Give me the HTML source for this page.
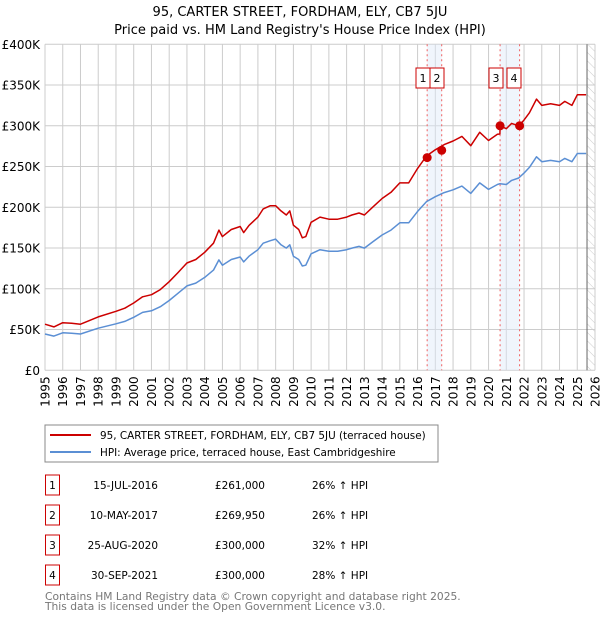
<!DOCTYPE html>
<html><head><meta charset="utf-8"><style>
body{margin:0;background:#fff;font-family:"Liberation Sans","DejaVu Sans",sans-serif}
svg text{font-family:"DejaVu Sans","Liberation Sans",sans-serif}
</style></head><body>
<svg id="c" width="600" height="620" xmlns="http://www.w3.org/2000/svg">
<defs><pattern id="hatch" width="6" height="6" patternUnits="userSpaceOnUse" patternTransform="rotate(-45)"><line x1="0" y1="0" x2="0" y2="6" stroke="#ccc" stroke-width="1"/></pattern></defs>
<text x="300" y="16" text-anchor="middle" font-size="13">95, CARTER STREET, FORDHAM, ELY, CB7 5JU</text>
<text x="300" y="34" text-anchor="middle" font-size="13">Price paid vs. HM Land Registry's House Price Index (HPI)</text>
<g id="grid"></g><g id="marks"></g><g id="series"></g><g id="axes"></g>
<rect x="45" y="425" width="393" height="37" fill="#fff" stroke="#888"/>
<line x1="50" y1="435" x2="91" y2="435" stroke="#cc0000" stroke-width="2"/>
<text x="100" y="439" font-size="10.4">95, CARTER STREET, FORDHAM, ELY, CB7 5JU (terraced house)</text>
<line x1="50" y1="452" x2="91" y2="452" stroke="#5b8fd4" stroke-width="2"/>
<text x="100" y="456" font-size="10.4">HPI: Average price, terraced house, East Cambridgeshire</text>
<g id="table"></g>
<text x="45" y="600" font-size="10.7" fill="#777">Contains HM Land Registry data © Crown copyright and database right 2025.</text>
<text x="45" y="610" font-size="10.7" fill="#777">This data is licensed under the Open Government Licence v3.0.</text>
</svg>
<script>
const years=[1995,1995.5,1996,1996.5,1997,1998,1999,1999.5,2000,2000.5,2001,2001.5,2002,2002.5,2003,2003.5,2004,2004.5,2004.8,2005,2005.5,2006,2006.2,2006.5,2007,2007.3,2007.7,2008,2008.3,2008.6,2008.8,2009,2009.3,2009.5,2009.7,2010,2010.5,2011,2011.5,2012,2012.3,2012.7,2013,2013.5,2014,2014.5,2015,2015.5,2016,2016.5,2017,2017.5,2018,2018.5,2019,2019.5,2020,2020.5,2020.64,2020.65,2021,2021.3,2021.7,2022,2022.3,2022.7,2023,2023.5,2024,2024.3,2024.7,2025,2025.5];
const hpiValues=[44.6,42,46,45.5,44.6,51.6,57,60,65,71,73,78,85.6,94.6,103.6,107,114,123,135.5,129,136,139,133,140,148,156,159,161,154,150,154,140,136,128,129,143,148,146,146,148,150,152,150,158,166,172,181,181,195,207,213,218,221.5,226,217,230,222,228,229,229,228,233,236,242,249,262,256,257.5,256,260,256,266,266];
const priceValues=[56.6,53.3,58.4,57.8,56.6,65.5,72.4,76.2,82.6,90.2,92.7,99,108.7,120,131.6,135.9,144.8,156,172,164,172.7,176.5,169,177.8,188,198,202,202,195.6,190.5,195.6,178,172.7,162.6,164,181.6,188,185.4,185.4,188,190.5,193,190.5,200.7,210.8,218.4,230,230,247.7,263,270.5,276.9,281.3,287,275.6,292,282,289.6,290,300,296.4,303,300,307,316,332.7,325,327,325,330,325,338,338];
const saleLabels=["1","2","3","4"];
const saleDates=[2016.54,2017.36,2020.65,2021.75];
const salePrices=[261,269.95,300,300];
const saleDateText=["15-JUL-2016","10-MAY-2017","25-AUG-2020","30-SEP-2021"];
const salePriceText=["£261,000","£269,950","£300,000","£300,000"];
const saleHpiText=["26% ↑ HPI","26% ↑ HPI","32% ↑ HPI","28% ↑ HPI"];
const yTicks=[0,50,100,150,200,250,300,350,400];
const yTickLabels=["£0","£50K","£100K","£150K","£200K","£250K","£300K","£350K","£400K"];
const xTicks=[1995,1996,1997,1998,1999,2000,2001,2002,2003,2004,2005,2006,2007,2008,2009,2010,2011,2012,2013,2014,2015,2016,2017,2018,2019,2020,2021,2022,2023,2024,2025,2026];

const NS="http://www.w3.org/2000/svg";
const X0=45,X1=595,Y0=370.3,Y1=44.3;
const xs=v=>X0+(v-1995)*(X1-X0)/31;
const ys=v=>Y0-(v)*(Y0-Y1)/400;
function mk(tag,attrs,parent,txt){const e=document.createElementNS(NS,tag);for(const k in attrs)e.setAttribute(k,attrs[k]);if(txt!==undefined)e.textContent=txt;parent.appendChild(e);return e;}
const grid=document.getElementById('grid'),marks=document.getElementById('marks'),series=document.getElementById('series'),axes=document.getElementById('axes'),table=document.getElementById('table');
xTicks.forEach(t=>{const l=mk('line',{x1:xs(t),x2:xs(t),y1:Y1,y2:Y0,stroke:'#ccc','stroke-width':1},grid);


const tx=mk('text',{x:0,y:0,'font-size':12,'text-anchor':'end',transform:`translate(${xs(t)+4.5},${Y0+6}) rotate(-90)`},axes,String(t));

});
yTicks.forEach((t,i)=>{const l=mk('line',{x1:X0,x2:X1,y1:ys(t),y2:ys(t),stroke:'#ccc','stroke-width':1},grid);


const tx=mk('text',{x:X0-5,y:ys(t)+4.5,'font-size':12,'text-anchor':'end'},axes,yTickLabels[i]);

});
const hx=xs(2025.55);
const h=mk('rect',{x:hx,y:Y1,width:X1-hx,height:Y0-Y1,fill:'url(#hatch)'},grid);


const hl=mk('line',{x1:hx,x2:hx,y1:Y1,y2:Y0,stroke:'#666','stroke-width':1},grid);


[[0,1],[2,3]].forEach(p=>{const r=mk('rect',{x:xs(saleDates[p[0]]),y:Y1,width:xs(saleDates[p[1]])-xs(saleDates[p[0]]),height:Y0-Y1,fill:'#dde8f8','fill-opacity':0.45},marks);

});
const boxX=[416,430,489,507];
saleDates.forEach((d,i)=>{const l=mk('line',{x1:xs(d),x2:xs(d),y1:Y1,y2:Y0,stroke:'#f06060','stroke-width':1,'stroke-dasharray':'2,3'},marks);


const b=mk('rect',{x:boxX[i],y:68,width:14,height:20,fill:'#fff',stroke:'#cc0000'},marks);


const t=mk('text',{x:boxX[i]+7,y:82,'font-size':11,'text-anchor':'middle'},marks,saleLabels[i]);

});
function path(vals,color,name){let d='';years.forEach((y,i)=>{d+=(i?'L':'M')+xs(y).toFixed(1)+','+ys(vals[i]).toFixed(1);});
const p=mk('path',{d:d,fill:'none',stroke:color,'stroke-width':1.5,'stroke-linejoin':'round'},series);

}
path(hpiValues,'#5b8fd4','hpi-line');
path(priceValues,'#cc0000','price-line');
saleDates.forEach((d,i)=>{const c=mk('circle',{cx:xs(d),cy:ys(salePrices[i]),r:4.5,fill:'#cc0000'},series);

});
saleLabels.forEach((s,i)=>{const y=475+i*30;
const b=mk('rect',{x:45.5,y:y,width:14,height:20,fill:'#fff',stroke:'#cc0000'},table);


const t=mk('text',{x:52.5,y:y+14,'font-size':10.5,'text-anchor':'middle'},table,s);


const a=mk('text',{x:158,y:y+14,'font-size':10.5,'text-anchor':'end'},table,saleDateText[i]);


const p=mk('text',{x:265,y:y+14,'font-size':10.5,'text-anchor':'end'},table,salePriceText[i]);


const q=mk('text',{x:312,y:y+14,'font-size':10.5},table,saleHpiText[i]);

});
</script>
</body></html>
